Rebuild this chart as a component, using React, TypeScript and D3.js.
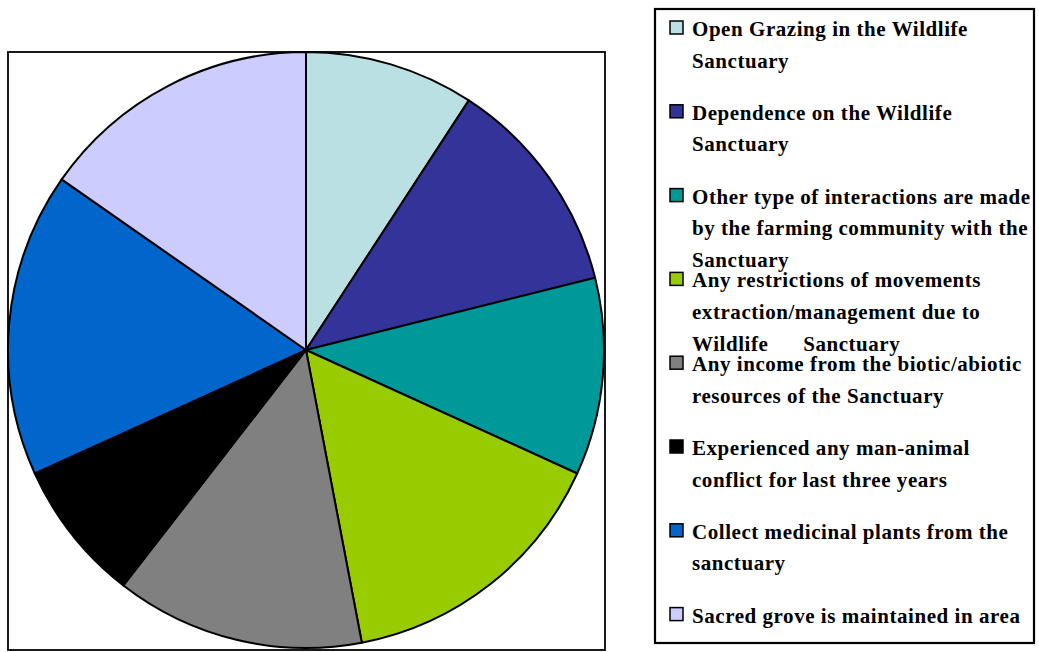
import React from "react";
import * as d3 from "d3";

const categories: string[] = [
  "Open Grazing in the Wildlife Sanctuary",
  "Dependence on the Wildlife Sanctuary",
  "Other type of interactions are made by the farming community with the Sanctuary",
  "Any restrictions of movements extraction/management due to Wildlife Sanctuary",
  "Any income from the biotic/abiotic resources of the Sanctuary",
  "Experienced any man-animal conflict for last three years",
  "Collect medicinal plants from the sanctuary",
  "Sacred grove is maintained in area",
];

const values: number[] = [9.2, 11.9, 10.7, 15.2, 13.5, 7.7, 16.5, 15.3];

const colors: string[] = [
  "#BBE0E3",
  "#333399",
  "#009999",
  "#99CC00",
  "#808080",
  "#000000",
  "#0066CC",
  "#CCCCFF",
];

const legendLines: string[][] = [
  ["Open Grazing in the Wildlife", "Sanctuary"],
  ["Dependence on the Wildlife", "Sanctuary"],
  ["Other type of interactions are made", "by the farming community with the", "Sanctuary"],
  ["Any restrictions of movements", "extraction/management due to", "Wildlife      Sanctuary"],
  ["Any income from the biotic/abiotic", "resources of the Sanctuary"],
  ["Experienced any man-animal", "conflict for last three years"],
  ["Collect medicinal plants from the", "sanctuary"],
  ["Sacred grove is maintained in area"],
];

export default function App() {
  const W = 1039;
  const H = 652;
  const cx = 306;
  const cy = 350;
  const r = 298;

  const pie = d3.pie<number>().sort(null).value((d) => d);
  const arcs = pie(values);
  const arc = d3.arc<d3.PieArcDatum<number>>().innerRadius(0).outerRadius(r);

  const legendX = 655;
  const legendY = 9;
  const legendW = 379;
  const legendH = 634;
  const firstBaseline = 36;
  const itemStep = 83.8;
  const lineStep = 31.6;

  return (
    <svg
      width={W}
      height={H}
      viewBox={`0 0 ${W} ${H}`}
      style={{ position: "absolute", left: 0, top: 0, display: "block", background: "#fff" }}
    >
      <rect x={8} y={52} width={597} height={598} fill="#fff" stroke="#000" strokeWidth={1.8} />
      <g transform={`translate(${cx},${cy})`}>
        {arcs.map((a, i) => (
          <path key={i} d={arc(a) || ""} fill={colors[i]} stroke="#000" strokeWidth={2} strokeLinejoin="round" />
        ))}
      </g>
      <rect x={legendX} y={legendY} width={legendW} height={legendH} fill="#fff" stroke="#000" strokeWidth={2.2} />
      {legendLines.map((lines, i) => {
        const base = firstBaseline + i * itemStep;
        return (
          <g key={i}>
            <rect x={670} y={base - 15} width={13} height={13} fill={colors[i]} stroke="#000" strokeWidth={1.5} />
            {lines.map((ln, j) => (
              <text
                key={j}
                x={692}
                y={base + j * lineStep}
                fontFamily="'Liberation Serif', 'Times New Roman', serif"
                fontWeight="bold"
                fontSize={21}
                letterSpacing={0.55}
                fill="#000"
                style={{ whiteSpace: "pre" }}
              >
                {ln}
              </text>
            ))}
          </g>
        );
      })}
    </svg>
  );
}
